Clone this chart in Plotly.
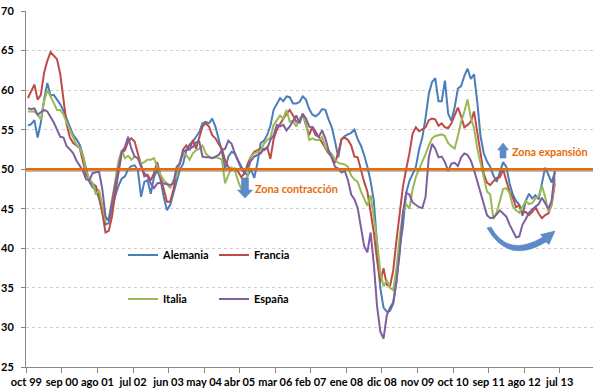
import plotly.graph_objects as go

# ---- data (monthly PMI, oct 99 ...) ----
alemania = [55.5, 55.7, 56.2, 54.0, 55.9, 58.8, 60.9, 59.3, 59.4, 58.8,
            58.2, 57.4, 56.4, 55.5, 54.3, 53.8, 53.1, 51.8, 49.9, 48.4,
            47.7, 47.4, 46.3, 44.6, 43.0, 43.2, 45.0, 46.6, 47.9, 48.8,
            49.1, 50.0, 50.4, 50.5, 49.9, 46.5, 48.4, 48.6, 46.9, 49.0,
            49.9, 48.7, 46.5, 44.8, 45.5, 46.9, 48.6, 49.9, 50.7, 52.4,
            53.1, 53.5, 54.1, 54.7, 55.8, 56.0, 55.8, 56.4, 55.4, 53.9,
            52.2, 50.0, 51.6, 52.2, 52.0, 51.1, 50.3, 49.6, 49.2, 50.0,
            48.9, 50.8, 53.3, 53.6, 54.3, 55.5, 57.5, 58.3, 59.0, 58.6,
            59.2, 59.1, 58.3, 58.3, 58.5, 59.2, 58.8, 57.6, 56.9, 56.7,
            57.0, 57.6, 57.5, 56.3, 55.3, 53.5, 51.5, 53.8, 54.2, 54.4,
            54.6, 55.0, 53.8, 53.0, 51.8, 50.3, 48.5, 46.0, 40.5, 35.0,
            32.5, 32.0, 32.1, 33.0, 35.8, 40.0, 42.8, 47.0, 48.5, 49.4,
            50.3, 52.5, 54.0, 56.5, 59.5, 61.0, 61.5, 58.6, 58.6, 61.2,
            57.0, 56.1, 57.8, 60.2, 60.5, 61.8, 62.7, 61.4, 62.0, 58.5,
            54.2, 52.0, 51.0, 50.3, 49.2, 48.4, 49.6, 50.9, 50.3, 48.2,
            46.8, 46.0, 45.5, 44.1, 46.0, 46.9, 46.3, 46.7, 46.2, 48.4,
            50.2, 49.3, 48.3, 49.6]

francia = [59.0, 59.8, 60.7, 58.8, 59.4, 62.2, 63.7, 64.8, 64.3, 63.9,
           62.0, 59.0, 55.6, 54.0, 53.3, 53.0, 52.7, 51.0, 49.3, 48.7,
           48.1, 47.9, 46.6, 44.5, 42.0, 42.2, 44.0, 47.0, 49.5, 52.0,
           52.4, 53.5, 53.9, 53.5, 52.0, 50.7, 49.1, 49.3, 48.6, 49.5,
           50.9, 49.1, 47.6, 45.9, 45.9, 47.4, 49.5, 50.8, 52.5, 53.0,
           52.4, 53.7, 52.6, 54.1, 55.4, 55.8, 55.4, 54.3, 53.9, 53.2,
           52.6, 51.1, 50.3, 49.9, 50.1, 49.7, 49.0, 49.5, 50.7, 51.6,
           52.2, 52.4, 52.6, 52.4, 52.8, 51.3, 53.8, 55.0, 55.8, 56.4,
           57.0, 57.5, 56.8, 56.0, 56.0, 57.0, 55.6, 54.3, 55.4, 54.7,
           54.1, 53.4, 52.6, 52.0, 51.6, 50.8, 52.1, 53.8, 54.0, 53.7,
           53.0, 51.6, 51.5, 49.8, 48.4, 47.2, 44.8, 42.0, 38.5, 35.7,
           37.5, 35.4, 35.2, 37.2, 41.0, 44.5, 47.8, 50.0, 52.0, 54.5,
           55.3, 54.8, 55.0, 55.3, 56.2, 56.4, 56.3, 55.5, 55.8, 55.3,
           55.2, 55.8, 56.8, 57.8, 56.7, 55.3, 55.6, 56.0, 57.3, 54.6,
           51.5, 49.4, 48.3, 48.0, 48.5, 48.9, 49.0, 50.0, 48.5, 47.2,
           46.4, 45.2, 45.4, 44.5, 44.6, 44.2, 44.6, 45.2, 44.4, 43.8,
           44.2, 44.4, 45.5, 48.2]

italia = [57.3, 57.3, 57.3, 56.9, 56.3, 58.6, 60.0, 59.2, 58.4, 57.5,
          57.5, 56.9, 55.9, 55.0, 54.0, 53.1, 52.7, 51.7, 49.8, 48.7,
          48.3, 46.8, 47.4, 45.3, 43.5, 43.8, 46.0, 48.5, 51.0, 52.4,
          51.4, 51.7, 51.2, 51.6, 51.4, 50.7, 50.9, 51.2, 51.2, 51.4,
          50.3, 49.3, 48.6, 48.2, 47.6, 48.6, 49.1, 51.0, 51.8, 51.8,
          51.2, 52.0, 52.4, 52.6, 53.0, 52.0, 51.6, 51.4, 51.5, 51.4,
          51.2, 48.2, 49.3, 50.2, 49.9, 48.5, 47.5, 48.3, 49.2, 51.6,
          52.0, 52.2, 52.4, 53.2, 53.7, 54.0, 55.6, 56.2, 56.8, 56.4,
          57.5, 56.0, 56.1, 55.4, 56.4, 56.8, 55.8, 53.7, 53.9, 53.7,
          53.7, 54.1, 52.8, 52.3, 51.9, 51.2, 50.8, 50.7, 50.6, 50.3,
          49.2, 48.7, 48.4, 47.2, 46.4, 45.4, 46.7, 43.8, 41.0, 37.0,
          35.2, 36.0, 35.0, 34.7, 37.5, 41.5, 44.5, 45.6, 45.0, 47.5,
          49.0, 50.0, 50.9, 51.9, 53.0, 53.9, 54.2, 54.3, 54.4, 54.2,
          53.3, 52.9, 52.6, 54.2, 56.0, 57.3, 58.8, 56.5, 55.2, 52.6,
          50.6, 49.0, 47.2, 46.8, 43.7, 44.5, 46.0, 47.5, 47.6, 47.0,
          45.3, 44.8, 44.5, 45.3, 46.0, 45.6, 45.7, 46.3, 46.6, 47.9,
          46.5, 44.6, 45.5, 48.8]

espana = [57.7, 57.6, 57.7, 56.9, 57.2, 57.5, 57.3, 56.6, 55.9, 55.0,
          54.1, 54.0, 52.9, 52.5, 52.0, 51.1, 50.4, 49.8, 48.7, 48.6,
          49.5, 49.6, 49.7, 47.5, 44.0, 43.5, 46.0, 48.0, 50.0, 52.2,
          52.8, 54.1, 52.6, 51.6, 51.4, 50.3, 49.5, 49.1, 48.2, 47.6,
          48.2, 48.3, 48.2, 48.1, 48.0, 48.2, 50.3, 50.7, 52.2, 52.4,
          52.6, 52.8, 53.4, 53.5, 51.6, 51.5, 51.5, 51.4, 51.6, 51.8,
          52.4, 52.6, 53.6, 53.2, 52.0, 51.1, 50.1, 49.5, 50.3, 51.1,
          51.6, 51.8, 52.0, 52.6, 52.6, 53.7, 54.3, 55.6, 55.4, 55.6,
          54.9, 55.4, 56.2, 56.8, 55.8, 57.0, 56.4, 55.4, 55.2, 54.3,
          54.1, 54.9, 53.9, 52.4, 51.4, 50.3, 50.1, 49.6, 49.8, 48.6,
          46.8, 46.2, 45.1, 42.8, 40.3, 39.5, 42.0, 38.0, 32.7, 29.5,
          28.6, 31.5, 32.5, 33.2, 35.8, 39.4, 44.5, 47.0, 46.8, 45.8,
          45.5, 45.2, 45.1, 46.5, 51.5, 53.2, 52.6, 51.5, 51.6, 50.9,
          49.8, 50.7, 50.8, 50.4, 51.5, 52.0, 51.8, 51.1, 49.9, 48.4,
          47.0, 45.4, 44.2, 43.8, 43.9, 44.3, 44.8, 44.4, 44.0, 43.0,
          42.2, 41.4, 41.5, 43.0, 43.7, 44.5, 44.9, 45.2, 45.6, 46.4,
          45.6, 45.0, 46.0, 49.8]

tick_labels = ["oct 99", "sep 00", "ago 01", "jul 02", "jun 03", "may 04",
               "abr 05", "mar 06", "feb 07", "ene 08", "dic 08", "nov 09",
               "oct 10", "sep 11", "ago 12", "jul 13"]
label_step = 11          # months between tick labels
umbral = 50              # expansion / contraction threshold

series = [("Alemania", alemania, "#4A7EBB", "legend"),
          ("Francia", francia, "#BE4B48", "legend"),
          ("Italia", italia, "#98B954", "legend2"),
          ("España", espana, "#7D60A0", "legend2")]

FONT = "Lato"
W, H = 600, 392
L, R, T, B = 26, 7, 11, 25

def px(x):  # pixel -> paper x
    return (x - L) / (W - L - R)

def py(y):  # pixel -> paper y
    return (H - B - y) / (H - T - B)

def path(points, closed=True):
    s = ""
    for cmd, pts in points:
        s += cmd + " ".join(f"{px(a):.4f},{py(b):.4f}" for a, b in pts) + " "
    return s + ("Z" if closed else "")

fig = go.Figure()
for name, vals, color, leg in series:
    fig.add_trace(go.Scatter(x=list(range(len(vals))), y=vals, name=name,
                             mode="lines", line=dict(color=color, width=2),
                             legend=leg))

tickvals = [i * label_step - 0.5 for i in range(len(tick_labels))]
tfont = dict(family=FONT, size=11, color="black", weight="bold")

fig.update_layout(
    width=W, height=H, autosize=False,
    margin=dict(l=L, r=R, t=T, b=B, pad=0, autoexpand=False),
    paper_bgcolor="white", plot_bgcolor="white",
    font=tfont,
    xaxis=dict(range=[-0.6, 174.8], tickmode="array", tickvals=tickvals,
               ticktext=tick_labels, showgrid=False, zeroline=False,
               showline=True, linecolor="#868686", linewidth=1,
               ticks="outside", ticklen=5, tickcolor="#868686",
               tickfont=tfont, tickangle=0, automargin=False),
    yaxis=dict(range=[25, 70], dtick=5, tick0=25, showgrid=True,
               gridcolor="#CFCFCF", griddash="3px,3px", gridwidth=1,
               zeroline=False, showline=True, linecolor="#868686", linewidth=1,
               ticks="outside", ticklen=4, tickcolor="#868686",
               ticklabelstandoff=5, tickfont=tfont, automargin=False),
    legend=dict(orientation="h", x=px(123), y=py(255), xanchor="left",
                yanchor="middle", bgcolor="rgba(0,0,0,0)", itemwidth=30,
                entrywidth=46, entrywidthmode="pixels", font=tfont),
    legend2=dict(orientation="h", x=px(123), y=py(299), xanchor="left",
                 yanchor="middle", bgcolor="rgba(0,0,0,0)", itemwidth=30,
                 entrywidth=46, entrywidthmode="pixels", font=tfont),
    showlegend=True,
)

ORANGE = "#E46C0A"
ARROW = "#5B8BC9"
shapes = [
    # shadow + threshold line
    dict(type="line", xref="paper", x0=0, x1=1, yref="y", y0=umbral - 0.2,
         y1=umbral - 0.2, line=dict(color="rgba(110,110,110,0.45)", width=2.5),
         layer="above"),
    dict(type="line", xref="paper", x0=0, x1=1, yref="y", y0=umbral, y1=umbral,
         line=dict(color=ORANGE, width=2.5), layer="above"),
    # down arrow
    dict(type="path", xref="paper", yref="paper", layer="above",
         path=path([("M", [(241.5, 178)]), ("L", [(248.5, 178)]), ("L", [(248.5, 190)]),
                    ("L", [(252.5, 190)]), ("L", [(245, 198)]), ("L", [(237.5, 190)]),
                    ("L", [(241.5, 190)])]),
         fillcolor=ARROW, line=dict(color="#4A7EBB", width=0.5)),
    # up arrow
    dict(type="path", xref="paper", yref="paper", layer="above",
         path=path([("M", [(503, 143)]), ("L", [(508.5, 150)]), ("L", [(506, 150)]),
                    ("L", [(506, 158)]), ("L", [(500, 158)]), ("L", [(500, 150)]),
                    ("L", [(497.5, 150)])]),
         fillcolor=ARROW, line=dict(color="#4A7EBB", width=0.5)),
    # curved arrow
    dict(type="path", xref="paper", yref="paper", layer="above",
         path=path([("M", [(487, 228)]), ("Q", [(508, 265), (546, 242)]),
                    ("L", [(549, 244.5)]), ("L", [(555, 231)]), ("L", [(540.5, 234.6)]),
                    ("L", [(543, 237)]), ("Q", [(508, 258), (491, 227)])]),
         fillcolor=ARROW, line=dict(color="#4A7EBB", width=0.5)),
]
fig.update_layout(shapes=shapes)

fig.add_annotation(text="Zona contracción", xref="paper", yref="paper",
                   x=px(296.5), y=py(188), xanchor="center", yanchor="middle",
                   showarrow=False,
                   font=dict(family=FONT, size=10.8, color=ORANGE, weight="bold"))
fig.add_annotation(text="Zona expansión", xref="paper", yref="paper",
                   x=px(550), y=py(151), xanchor="center", yanchor="middle",
                   showarrow=False,
                   font=dict(family=FONT, size=10.8, color=ORANGE, weight="bold"))

fig.write_html("out.html", config={"displayModeBar": False},
               post_script="document.body.style.margin='0px';")
